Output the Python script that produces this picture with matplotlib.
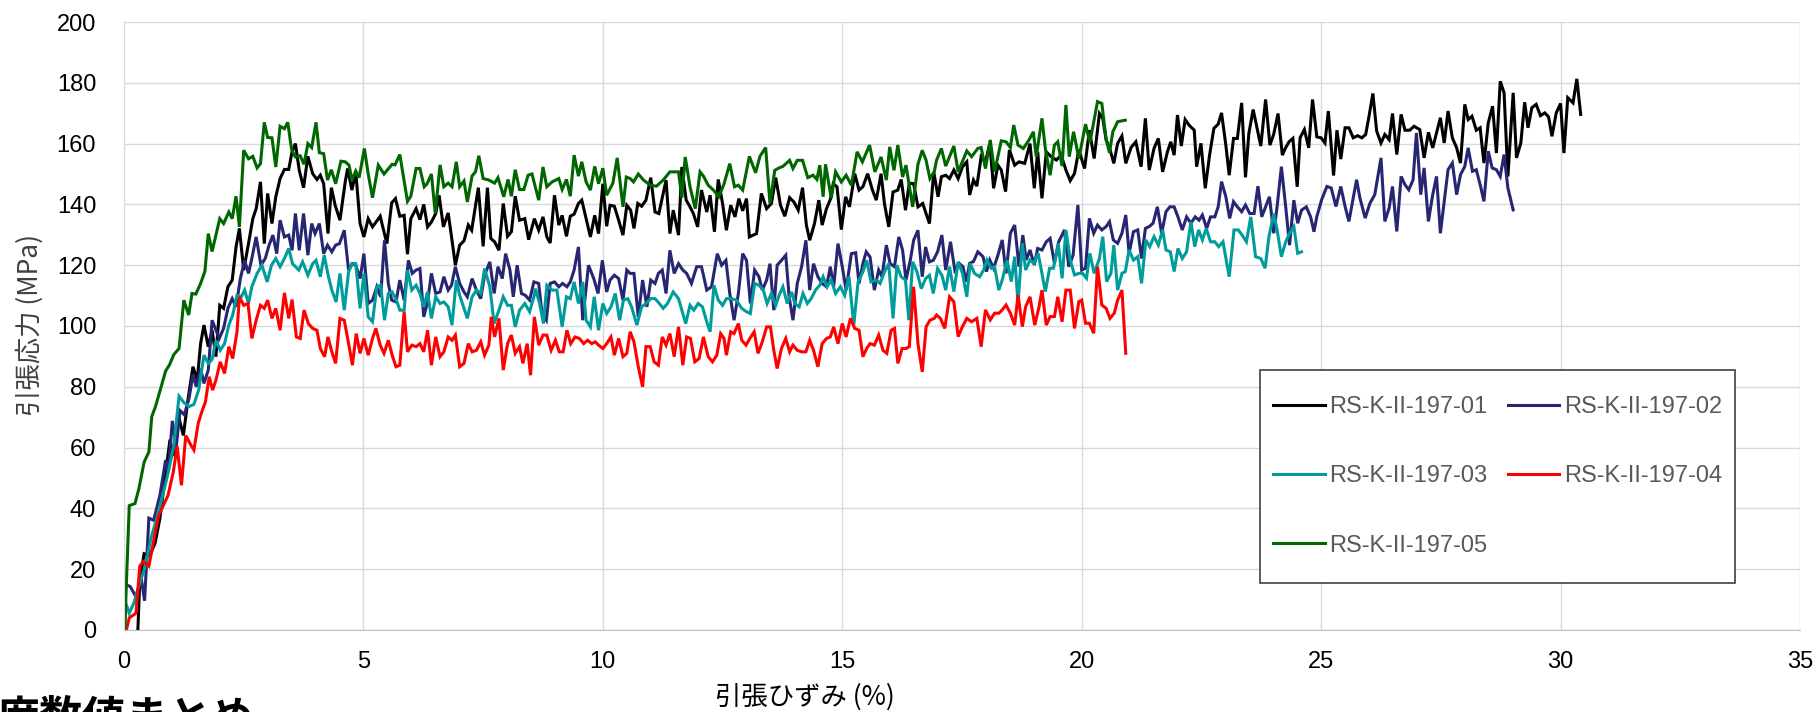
import numpy as np
import matplotlib.pyplot as plt
from matplotlib.patches import Rectangle

plt.rcParams['font.family'] = ['Liberation Sans', 'Noto Sans CJK JP']

labels = ['RS-K-II-197-01', 'RS-K-II-197-02', 'RS-K-II-197-03', 'RS-K-II-197-04', 'RS-K-II-197-05']
colors = ['#000000', '#262673', '#009c9c', '#ff0000', '#006600']

# strain (%), stress (MPa)
rs01 = np.array([
    [0.29, 0], [0.33, 16.3], [0.42, 25.1], [0.54, 24.5], [0.65, 28.6], [0.75, 36.7], [0.86, 50.3], [0.96, 62.6],
    [1.03, 57.2], [1.13, 70.8], [1.24, 64], [1.34, 76.2], [1.44, 86.6], [1.53, 82.2], [1.6, 94.2], [1.67, 100.3],
    [1.76, 93.2], [1.84, 98.6], [1.92, 89.9], [2.0, 106.8], [2.08, 105.8], [2.17, 112.9], [2.26, 115.1], [2.34, 126],
    [2.41, 132.1], [2.5, 118.4], [2.6, 127.1], [2.69, 135.3], [2.76, 138.6], [2.85, 147.4], [2.93, 127.1], [3.0, 143.6],
    [3.09, 133.7], [3.17, 142.5], [3.26, 148.5], [3.35, 151.5], [3.44, 151.5], [3.51, 157.3], [3.58, 160], [3.66, 151.2],
    [3.75, 145.5], [3.84, 155.8], [3.94, 150.1], [4.03, 148.2], [4.1, 149.6], [4.17, 146.8], [4.26, 130.4], [4.33, 145.5],
    [4.41, 139.7], [4.51, 134.8], [4.62, 147.4], [4.67, 151.8], [4.76, 144.7], [4.84, 150.7], [4.93, 133.7], [5.01, 129.3],
    [5.1, 135.3], [5.19, 132.6], [5.35, 136.1], [5.49, 127.1], [5.59, 140.5], [5.67, 141.9], [5.76, 136.1], [5.85, 136.4],
    [5.92, 123.6], [5.99, 135.3], [6.1, 138.6], [6.18, 135], [6.26, 140], [6.34, 132.6], [6.42, 134.2], [6.51, 137],
    [6.58, 143], [6.67, 132.6], [6.77, 137.2], [6.85, 128.2], [6.92, 120], [7.01, 126.6], [7.1, 128], [7.19, 133.2],
    [7.26, 131.5], [7.4, 145.5], [7.5, 126.2], [7.59, 145.5], [7.66, 128.8], [7.74, 127.7], [7.83, 124.9], [7.92, 140.3],
    [8.01, 129.5], [8.09, 131], [8.17, 142.7], [8.26, 134.8], [8.37, 135.3], [8.45, 128.4], [8.57, 135.3], [8.66, 131.5],
    [8.75, 135.9], [8.83, 129.3], [8.9, 127.3], [8.99, 143], [9.08, 133.2], [9.15, 136.4], [9.24, 129.5], [9.32, 136.1],
    [9.4, 136.8], [9.49, 140.3], [9.56, 141.4], [9.65, 135.3], [9.74, 129.3], [9.83, 136.4], [9.91, 130.4], [10.0, 146.8],
    [10.08, 132.8], [10.15, 139.7], [10.24, 139.4], [10.33, 134.8], [10.42, 129.9], [10.5, 139.7], [10.58, 138.1],
    [10.65, 132.1], [10.73, 140.3], [10.81, 139.4], [10.9, 141.4], [11.0, 148.8], [11.09, 137.5], [11.17, 137],
    [11.32, 148], [11.4, 130.4], [11.47, 138.1], [11.58, 129.9], [11.65, 152.3], [11.74, 141.4], [11.82, 139.2],
    [11.89, 137], [11.98, 132.6], [12.06, 144.7], [12.17, 137.5], [12.24, 143], [12.33, 131], [12.41, 148.2],
    [12.5, 140.3], [12.58, 131.5], [12.67, 139.7], [12.76, 135.9], [12.84, 141.9], [12.92, 137.9], [13.0, 141.9],
    [13.06, 129.3], [13.21, 130.4], [13.31, 143.6], [13.42, 138.6], [13.52, 140.3], [13.61, 148.8], [13.71, 139.7],
    [13.8, 136.1], [13.9, 142.2], [13.99, 140.8], [14.08, 138.1], [14.17, 145.5], [14.25, 133.2], [14.32, 128.2],
    [14.42, 133.7], [14.51, 141.4], [14.58, 133.2], [14.67, 138.6], [14.75, 141.6], [14.81, 146.8], [14.89, 145.8],
    [14.98, 131.7], [15.07, 142.5], [15.15, 139.2], [15.26, 150.1], [15.35, 144.7], [15.43, 145.8], [15.53, 150.1],
    [15.63, 144.7], [15.71, 141.4], [15.81, 150.1], [15.88, 140.3], [15.97, 132.6], [16.06, 144.1], [16.16, 144.7],
    [16.23, 148.2], [16.32, 138.1], [16.4, 147], [16.49, 146.8], [16.58, 139.2], [16.68, 140.3], [16.82, 133.7],
    [16.91, 150.7], [17.0, 142.5], [17.07, 149.1], [17.16, 149.6], [17.24, 148.5], [17.33, 151.3], [17.42, 148.5],
    [17.51, 152.4], [17.6, 154], [17.66, 143.1], [17.74, 148], [17.81, 146], [17.9, 155.7], [17.99, 154], [18.08, 160],
    [18.16, 145.3], [18.25, 152.9], [18.32, 151.3], [18.41, 144.2], [18.49, 157.9], [18.6, 152.9], [18.69, 154],
    [18.81, 153.5], [18.92, 160], [19.01, 145.3], [19.08, 157.3], [19.17, 142], [19.26, 157.3], [19.36, 155.7],
    [19.47, 154.6], [19.57, 156.2], [19.67, 151.3], [19.76, 147.8], [19.85, 150.2], [19.94, 157.9], [20.06, 151.8],
    [20.16, 164.4], [20.26, 155.1], [20.37, 169.9], [20.44, 168.3], [20.51, 161.2], [20.58, 158.7], [20.67, 153.5],
    [20.75, 160.1], [20.84, 162.5], [20.92, 153.5], [21.03, 158.7], [21.13, 160.6], [21.24, 152.4], [21.33, 168.3],
    [21.41, 151.3], [21.51, 158.4], [21.6, 161.7], [21.69, 150.7], [21.79, 157.3], [21.86, 160.6], [21.93, 156.2],
    [22.0, 169.4], [22.08, 159.2], [22.16, 167.9], [22.24, 166.1], [22.35, 164.4], [22.4, 152.4], [22.49, 160.1],
    [22.58, 145.3], [22.67, 156.2], [22.76, 165], [22.85, 166.4], [22.92, 170.1], [23.01, 159.5], [23.08, 149.6],
    [23.17, 161.7], [23.25, 161.7], [23.34, 173.4], [23.42, 148.9], [23.49, 163.3], [23.58, 171.2], [23.67, 164.4],
    [23.74, 159.2], [23.84, 174.5], [23.93, 159.5], [24.01, 163.1], [24.1, 169.9], [24.19, 156.2], [24.26, 158.7],
    [24.33, 160.6], [24.41, 161.7], [24.5, 145.8], [24.56, 161.9], [24.65, 164.6], [24.74, 158.6], [24.82, 174.5],
    [24.91, 162.2], [25.0, 161.9], [25.08, 160.2], [25.15, 170.7], [25.26, 149.5], [25.33, 164.4], [25.41, 154.9],
    [25.5, 165.2], [25.58, 165.2], [25.67, 161.9], [25.76, 162.6], [25.85, 161.9], [25.93, 163], [26.0, 169],
    [26.08, 176.5], [26.16, 164.1], [26.25, 160.2], [26.33, 163], [26.42, 161.3], [26.49, 169.9], [26.58, 156.4],
    [26.67, 169.6], [26.75, 164.4], [26.85, 164.4], [26.94, 165.7], [27.06, 164.6], [27.15, 155.3], [27.24, 163.7],
    [27.33, 158.6], [27.41, 163.5], [27.49, 168.5], [27.57, 160.2], [27.65, 170.7], [27.74, 161.9], [27.83, 158.6],
    [27.91, 153.6], [28.0, 172.9], [28.07, 167.9], [28.15, 169], [28.24, 164.4], [28.32, 165.2], [28.4, 153.6],
    [28.49, 166.8], [28.58, 172.3], [28.66, 156.9], [28.74, 180.5], [28.82, 176.7], [28.9, 149.2], [29.01, 176.7],
    [29.08, 155.3], [29.17, 160.2], [29.25, 173.6], [29.32, 165.2], [29.4, 171.8], [29.49, 172.9], [29.58, 169.2],
    [29.67, 170.1], [29.75, 168.8], [29.82, 162.4], [29.91, 170.1], [30.0, 173.2], [30.07, 156.9], [30.15, 175.1],
    [30.26, 173.4], [30.34, 181.3], [30.42, 169.6]])

rs02 = np.array([
    [0, 0], [0.02, 15], [0.13, 14.3], [0.25, 10.9], [0.36, 17], [0.43, 9.6], [0.52, 36.8], [0.62, 36.1], [0.75, 44.3],
    [0.87, 55.9], [0.92, 51.8], [1.01, 68.8], [1.09, 60], [1.17, 72.2], [1.26, 70.8], [1.36, 76.3], [1.44, 84],
    [1.51, 80], [1.6, 86], [1.67, 81.1], [1.76, 85.5], [1.84, 101.9], [1.92, 98.6], [1.99, 95.9], [2.08, 99.2],
    [2.17, 105.8], [2.26, 109], [2.34, 106.3], [2.43, 115.6], [2.52, 121.6], [2.6, 117.3], [2.67, 122.2], [2.76, 129.3],
    [2.86, 120], [2.95, 122.2], [3.03, 126.6], [3.11, 129.9], [3.19, 123.8], [3.26, 134.8], [3.35, 129.3], [3.44, 129.9],
    [3.51, 124.9], [3.58, 137], [3.66, 124.9], [3.75, 137], [3.84, 123.3], [3.92, 133.7], [3.99, 130.4], [4.08, 133.7],
    [4.17, 123.8], [4.25, 126.6], [4.34, 124.4], [4.42, 126.6], [4.5, 127.1], [4.6, 131.5], [4.69, 118.4], [4.77, 120.5],
    [4.84, 120], [4.93, 115.6], [5.01, 123.8], [5.1, 107.4], [5.19, 108.5], [5.28, 112.9], [5.36, 109.6], [5.44, 128.2],
    [5.52, 114], [5.59, 108.5], [5.68, 107.9], [5.76, 115.1], [5.85, 108.5], [5.94, 121.6], [6.02, 117.3], [6.1, 118.4],
    [6.18, 118.9], [6.26, 103], [6.34, 107.9], [6.42, 117.3], [6.51, 110.7], [6.6, 111.2], [6.68, 116.2], [6.77, 111.8],
    [6.84, 113.4], [6.92, 119.5], [7.01, 114], [7.1, 111.2], [7.17, 109.6], [7.27, 115.6], [7.36, 111.8], [7.45, 109],
    [7.53, 116.7], [7.64, 121.1], [7.73, 110.7], [7.81, 119.5], [7.9, 115.6], [7.97, 123.8], [8.06, 118.4], [8.13, 109.6],
    [8.21, 120], [8.3, 110.7], [8.38, 110.1], [8.47, 108.5], [8.56, 114.5], [8.66, 114], [8.73, 104.1], [8.82, 101.9],
    [8.9, 114], [8.99, 114.5], [9.08, 112.9], [9.16, 114], [9.25, 112.9], [9.32, 114.5], [9.4, 118.4], [9.49, 126],
    [9.58, 101.9], [9.7, 120], [9.81, 115.6], [9.9, 110.7], [9.99, 121.6], [10.08, 111.2], [10.15, 115.1], [10.24, 116.7],
    [10.33, 115.6], [10.42, 108.5], [10.5, 118.4], [10.57, 117.3], [10.65, 117.3], [10.74, 103], [10.83, 115.1],
    [10.92, 106.3], [11.0, 115.1], [11.09, 114], [11.16, 117.3], [11.24, 118.4], [11.32, 110.7], [11.4, 124.9],
    [11.49, 117.3], [11.58, 120.5], [11.67, 118.4], [11.75, 117.3], [11.85, 114], [11.96, 119.5], [12.06, 119.5],
    [12.17, 111.8], [12.27, 112.9], [12.39, 123.8], [12.48, 120], [12.57, 121.6], [12.65, 110.7], [12.74, 101.9],
    [12.83, 110.7], [12.92, 123.8], [13.0, 121.6], [13.08, 107.4], [13.17, 118.4], [13.26, 116.2], [13.33, 111.8],
    [13.42, 115.1], [13.49, 120.5], [13.57, 105.2], [13.64, 120], [13.73, 121.6], [13.82, 123.3], [13.89, 109.6],
    [13.97, 101.9], [14.06, 114], [14.15, 119.5], [14.24, 128.2], [14.32, 111.8], [14.4, 120.5], [14.49, 116.2],
    [14.58, 114], [14.67, 112.9], [14.75, 119.5], [14.82, 112.9], [14.91, 127.1], [15.0, 119.5], [15.08, 111.8],
    [15.19, 123.8], [15.28, 124.1], [15.35, 114], [15.43, 120.5], [15.5, 124.4], [15.58, 122.7], [15.67, 111.8],
    [15.76, 118.4], [15.83, 116.2], [15.92, 126.6], [16.0, 120.5], [16.09, 119.5], [16.18, 129.3], [16.26, 124.9],
    [16.33, 115.1], [16.42, 121.6], [16.49, 128.2], [16.58, 131.5], [16.67, 116.2], [16.74, 126], [16.82, 121.1],
    [16.9, 121.6], [16.99, 124.4], [17.08, 129.9], [17.16, 118.4], [17.26, 127.7], [17.35, 118.4], [17.44, 120.6],
    [17.52, 119.5], [17.59, 114.6], [17.66, 120.6], [17.74, 121.2], [17.83, 124.4], [17.94, 122.8], [18.01, 117.9],
    [18.08, 121.7], [18.16, 119], [18.25, 123.3], [18.34, 128.3], [18.42, 117.3], [18.51, 130.5], [18.6, 133.2],
    [18.69, 119.5], [18.77, 129.9], [18.84, 121.7], [18.92, 125], [19.01, 120.1], [19.08, 125.5], [19.17, 125],
    [19.26, 127.7], [19.34, 128.8], [19.43, 120.6], [19.52, 127.7], [19.64, 131.6], [19.73, 119.5], [19.82, 123.3],
    [19.92, 139.8], [20.0, 118.4], [20.08, 119], [20.16, 135.4], [20.25, 130.5], [20.33, 133.2], [20.42, 131.6],
    [20.51, 132.7], [20.58, 134.3], [20.66, 128.3], [20.75, 127.2], [20.84, 130.5], [20.92, 136.5], [20.99, 123.9],
    [21.08, 131], [21.17, 131.6], [21.25, 122.2], [21.33, 132.1], [21.41, 132.7], [21.49, 133.8], [21.58, 139.2],
    [21.67, 130.5], [21.76, 137.6], [21.84, 139.2], [21.93, 139.2], [22.01, 135.9], [22.1, 131.6], [22.19, 135.9],
    [22.28, 133.8], [22.37, 135.9], [22.45, 134.8], [22.52, 136.5], [22.61, 132.1], [22.69, 135.9], [22.78, 135.9],
    [22.85, 139.2], [22.92, 147.5], [23.01, 142.5], [23.09, 135.4], [23.17, 140.9], [23.25, 139.2], [23.34, 137.6],
    [23.42, 139.8], [23.51, 137], [23.6, 137], [23.68, 146], [23.76, 135.9], [23.84, 139.2], [23.92, 142.5],
    [24.01, 130.5], [24.08, 139.2], [24.17, 152.4], [24.26, 139.2], [24.34, 126.6], [24.43, 141.4], [24.51, 133.8],
    [24.59, 138.1], [24.69, 139.2], [24.78, 135.9], [24.85, 131], [24.91, 136], [25.01, 141.5], [25.12, 145.9],
    [25.21, 145.4], [25.31, 139.3], [25.41, 145.9], [25.5, 139.3], [25.58, 134.4], [25.74, 148.1], [25.81, 142.1],
    [25.92, 135.5], [26.02, 140.4], [26.12, 143.2], [26.25, 155.3], [26.33, 134.4], [26.42, 138.8], [26.49, 145.9],
    [26.58, 131.1], [26.67, 149.2], [26.75, 146.5], [26.83, 144.8], [26.92, 148.1], [26.99, 163.5], [27.08, 143.2],
    [27.15, 152], [27.24, 134.4], [27.33, 143.2], [27.41, 149.2], [27.49, 130.5], [27.57, 141], [27.65, 151.4],
    [27.74, 153.6], [27.83, 143.2], [27.91, 149.8], [28.0, 152.5], [28.07, 158.6], [28.16, 150.9], [28.24, 151.4],
    [28.33, 145.9], [28.4, 141], [28.49, 157.5], [28.57, 152], [28.66, 151.4], [28.74, 149.2], [28.82, 156.4],
    [28.9, 145.4], [29.01, 138.2]])

rs03 = np.array([
    [0, 3], [0.02, 9.6], [0.11, 5.5], [0.21, 9], [0.32, 15], [0.46, 21.8], [0.56, 30], [0.67, 36], [0.77, 42],
    [0.86, 47.6], [0.94, 53], [1.04, 60.6], [1.15, 76.9], [1.25, 74.8], [1.36, 73.5], [1.46, 74.2], [1.56, 79],
    [1.67, 90.4], [1.76, 87.7], [1.84, 89], [1.92, 95.3], [2.01, 92], [2.1, 94.2], [2.19, 100.3], [2.27, 103.6],
    [2.36, 110.1], [2.45, 109.6], [2.52, 111.8], [2.6, 107.4], [2.67, 112.9], [2.78, 117.3], [2.88, 120], [2.99, 114.5],
    [3.08, 120], [3.17, 122.2], [3.26, 119.5], [3.35, 122.2], [3.44, 125.5], [3.52, 120.5], [3.65, 118.4], [3.73, 121.1],
    [3.84, 116.7], [3.94, 120.5], [4.01, 121.6], [4.1, 116.2], [4.18, 123.3], [4.27, 116.2], [4.34, 111.8], [4.43, 107.9],
    [4.51, 117.3], [4.6, 105.2], [4.69, 117.8], [4.76, 120.5], [4.84, 120.5], [4.93, 105.8], [5.01, 117.3], [5.1, 103],
    [5.19, 101.4], [5.28, 112.9], [5.36, 113.4], [5.44, 101.9], [5.52, 110.7], [5.6, 111.2], [5.69, 108.5], [5.76, 105.2],
    [5.85, 105.2], [5.92, 118.4], [6.01, 111.8], [6.1, 113.4], [6.18, 110.7], [6.26, 106.3], [6.34, 111.2], [6.42, 102.5],
    [6.51, 109.6], [6.6, 107.4], [6.68, 107.9], [6.77, 106.3], [6.85, 100.3], [6.94, 115.1], [7.01, 110.1], [7.1, 105.8],
    [7.17, 102.5], [7.27, 109.6], [7.36, 111.8], [7.45, 110.7], [7.53, 118.9], [7.64, 112.9], [7.73, 100.8], [7.83, 105.2],
    [7.92, 109.6], [8.01, 106.8], [8.09, 106.8], [8.17, 99.7], [8.26, 105.2], [8.37, 107.4], [8.47, 104.7], [8.56, 109.6],
    [8.59, 112.3], [8.68, 107.4], [8.76, 100.8], [8.83, 113.4], [8.94, 111.8], [9.04, 111.8], [9.15, 99.7], [9.24, 109.6],
    [9.32, 109], [9.4, 114.5], [9.49, 107.4], [9.58, 114.5], [9.65, 101.9], [9.74, 99.7], [9.82, 109.6], [9.91, 98.6],
    [10.0, 107.4], [10.08, 104.1], [10.17, 106.3], [10.26, 110.7], [10.35, 101.9], [10.43, 108.5], [10.52, 109],
    [10.6, 106.3], [10.71, 100.3], [10.81, 106.3], [10.9, 107.4], [11.0, 109], [11.09, 109], [11.18, 107.4],
    [11.26, 105.8], [11.35, 107.4], [11.47, 111.2], [11.58, 109], [11.65, 105.2], [11.73, 100.8], [11.82, 106.8],
    [11.9, 105.2], [11.99, 107.4], [12.08, 106.3], [12.18, 100.8], [12.24, 98.1], [12.32, 113.4], [12.41, 108.5],
    [12.5, 106.8], [12.58, 109], [12.69, 109], [12.79, 108.5], [12.9, 105.8], [13.0, 104.7], [13.08, 104.1], [13.17, 114],
    [13.26, 113.4], [13.35, 111.8], [13.43, 107.4], [13.52, 110.7], [13.61, 106.8], [13.68, 110.1], [13.76, 112.9],
    [13.85, 107.4], [13.94, 111.2], [14.01, 107.4], [14.1, 106.3], [14.18, 110.7], [14.27, 107.4], [14.35, 109],
    [14.44, 111.8], [14.53, 113.4], [14.6, 116.2], [14.68, 112.9], [14.77, 115.1], [14.86, 110.7], [14.96, 112.9],
    [15.05, 110.1], [15.14, 116.2], [15.24, 100.3], [15.33, 114.5], [15.43, 117.8], [15.51, 121.6], [15.6, 114.5],
    [15.71, 115.1], [15.79, 114], [15.88, 117.8], [15.97, 120.5], [16.06, 102.5], [16.14, 120], [16.23, 116.2],
    [16.32, 115.1], [16.39, 101.9], [16.47, 121.1], [16.56, 117.8], [16.65, 112.3], [16.74, 115.6], [16.82, 116.7],
    [16.9, 110.7], [16.99, 118.9], [17.08, 116.7], [17.16, 111.8], [17.24, 119.5], [17.33, 111.3], [17.42, 121.1],
    [17.51, 117.3], [17.6, 109.6], [17.67, 120.6], [17.76, 117.3], [17.87, 116.2], [17.95, 118.4], [18.02, 121.7],
    [18.11, 119], [18.18, 119.5], [18.27, 111.8], [18.35, 115.7], [18.44, 121.7], [18.53, 114.6], [18.6, 122.8],
    [18.67, 107.5], [18.76, 127.2], [18.83, 118.4], [18.92, 121.7], [19.0, 120.6], [19.09, 123.9], [19.17, 117.3],
    [19.24, 111.3], [19.33, 119], [19.41, 119], [19.51, 127.2], [19.59, 115.7], [19.67, 131.6], [19.76, 121.7],
    [19.85, 116.8], [19.94, 117.3], [20.02, 117.3], [20.1, 115.7], [20.17, 123.9], [20.26, 117.3], [20.37, 122.2],
    [20.44, 129.4], [20.52, 114.6], [20.61, 117.3], [20.67, 126.6], [20.75, 111.8], [20.84, 117.3], [20.91, 117.9],
    [20.99, 125], [21.08, 121.7], [21.17, 122.8], [21.25, 114], [21.34, 128.3], [21.42, 126.1], [21.51, 129.4],
    [21.6, 126.6], [21.69, 131.6], [21.76, 125], [21.85, 124.4], [21.93, 117.9], [22.01, 125.5], [22.1, 122.2],
    [22.19, 124.4], [22.28, 134.3], [22.36, 126.1], [22.44, 131.6], [22.52, 128.3], [22.6, 132.1], [22.69, 127.7],
    [22.78, 127.7], [22.86, 126.1], [22.95, 127.7], [23.08, 116.2], [23.18, 131.6], [23.27, 131.6], [23.35, 129.9],
    [23.44, 127.7], [23.53, 135.9], [23.63, 122.8], [23.74, 122.2], [23.83, 119], [23.91, 129.4], [24.01, 137],
    [24.08, 131.6], [24.17, 122.8], [24.26, 127.7], [24.34, 130.5], [24.43, 132.7], [24.51, 123.9], [24.59, 124.4]])

rs04 = np.array([
    [0.05, 0], [0.11, 4], [0.25, 5.5], [0.33, 21], [0.4, 22.5], [0.52, 21], [0.61, 28.6], [0.72, 37.5], [0.82, 40.9],
    [0.92, 44.3], [1.03, 52], [1.11, 60.5], [1.2, 47.6], [1.29, 64], [1.38, 61.3], [1.46, 59.2], [1.55, 68], [1.63, 72],
    [1.7, 75], [1.78, 83.3], [1.85, 78.9], [1.92, 82.2], [2.01, 88.2], [2.1, 84.4], [2.19, 93.2], [2.27, 89.3],
    [2.36, 98.1], [2.41, 109.6], [2.5, 106.8], [2.59, 107.4], [2.67, 95.9], [2.76, 101.9], [2.85, 106.8], [2.93, 105.8],
    [3.0, 108.5], [3.09, 102.5], [3.17, 105.8], [3.26, 98.6], [3.35, 110.9], [3.44, 102.5], [3.51, 108.7], [3.6, 96.4],
    [3.68, 95.9], [3.76, 105.2], [3.85, 100.8], [3.94, 99.2], [4.03, 98.6], [4.1, 92.6], [4.19, 89.9], [4.26, 96.4],
    [4.34, 91.5], [4.42, 87.7], [4.51, 102.5], [4.6, 101.9], [4.69, 94.2], [4.77, 87.1], [4.85, 97.5], [4.93, 91],
    [5.01, 95.9], [5.1, 90.4], [5.19, 95.9], [5.26, 99.2], [5.35, 93.7], [5.43, 91], [5.52, 95.3], [5.6, 90.4],
    [5.68, 86.6], [5.76, 87.1], [5.85, 104.7], [5.92, 91.5], [6.01, 93.7], [6.1, 93.2], [6.18, 94.2], [6.26, 91.5],
    [6.34, 98.6], [6.42, 87.1], [6.51, 96.4], [6.6, 89.9], [6.68, 91.5], [6.77, 96.4], [6.85, 95.3], [6.92, 97],
    [7.01, 86.6], [7.1, 87.7], [7.19, 94.2], [7.27, 91.5], [7.36, 92], [7.45, 94.8], [7.53, 90.4], [7.62, 93.7],
    [7.67, 103], [7.74, 96.4], [7.83, 102.5], [7.92, 85.5], [8.01, 94.2], [8.09, 97], [8.17, 91], [8.26, 93.2],
    [8.33, 87.7], [8.42, 94.2], [8.49, 83.8], [8.57, 103], [8.66, 93.7], [8.75, 97], [8.83, 97], [8.92, 92], [9.01, 95.3],
    [9.09, 91.5], [9.17, 91.5], [9.25, 98.6], [9.33, 94.2], [9.42, 96.4], [9.51, 95.9], [9.6, 94.2], [9.68, 95.3],
    [9.77, 94.2], [9.84, 94.8], [9.91, 93.7], [10.0, 92.6], [10.08, 94.2], [10.17, 96.4], [10.24, 90.4], [10.33, 95.9],
    [10.42, 89.9], [10.5, 91], [10.57, 98.1], [10.65, 94.8], [10.74, 86.6], [10.83, 80], [10.9, 93.2], [10.99, 93.2],
    [11.07, 88.2], [11.16, 87.1], [11.24, 96.4], [11.32, 93.7], [11.4, 97.5], [11.49, 89.9], [11.58, 99.7], [11.67, 87.1],
    [11.75, 96.4], [11.83, 95.9], [11.92, 88.2], [12.01, 89.3], [12.1, 96.4], [12.2, 89.9], [12.29, 88.2], [12.38, 90.4],
    [12.46, 97.5], [12.53, 95.9], [12.58, 90.4], [12.67, 98.1], [12.74, 97.5], [12.83, 100.8], [12.9, 95.3], [12.99, 93.7],
    [13.07, 95.9], [13.16, 98.1], [13.24, 91], [13.33, 94.8], [13.42, 99.7], [13.5, 99.7], [13.57, 92], [13.64, 86],
    [13.73, 92.6], [13.82, 95.9], [13.9, 91.5], [13.97, 93.7], [14.06, 92], [14.15, 91.5], [14.24, 91.5], [14.32, 95.3],
    [14.4, 92], [14.49, 86.6], [14.58, 94.2], [14.67, 95.9], [14.75, 96.4], [14.82, 99.7], [14.91, 94.2], [15.0, 100.8],
    [15.08, 96.4], [15.17, 102.5], [15.26, 99.2], [15.35, 98.6], [15.43, 89.9], [15.51, 92.6], [15.58, 94.2],
    [15.67, 93.7], [15.76, 97], [15.85, 92], [15.93, 91], [16.02, 98.6], [16.09, 99.2], [16.16, 87.7], [16.25, 92.6],
    [16.33, 92.6], [16.4, 93.2], [16.49, 112.9], [16.58, 94.2], [16.67, 84.9], [16.75, 99.7], [16.83, 101.9],
    [16.92, 102.5], [16.97, 103.6], [17.05, 102.5], [17.14, 99.2], [17.24, 109.6], [17.33, 108], [17.42, 96.5],
    [17.51, 99.8], [17.6, 102.5], [17.7, 101.4], [17.81, 102.5], [17.9, 93.2], [17.99, 105.3], [18.09, 102],
    [18.18, 104.2], [18.27, 104.2], [18.34, 105.3], [18.42, 106.9], [18.51, 104.2], [18.6, 100.3], [18.67, 110.2],
    [18.76, 99.8], [18.83, 106.4], [18.92, 109.6], [19.02, 100.3], [19.11, 106.4], [19.17, 111.8], [19.26, 100.3],
    [19.34, 103.1], [19.43, 103.1], [19.5, 109.6], [19.59, 101.4], [19.67, 111.8], [19.76, 111.8], [19.85, 99.2],
    [19.94, 108], [20.0, 108.5], [20.08, 100.9], [20.16, 100.9], [20.25, 97.6], [20.33, 119.5], [20.42, 106.9],
    [20.51, 105.8], [20.59, 102.5], [20.68, 104.2], [20.75, 108.5], [20.84, 111.8], [20.92, 91]])

rs05 = np.array([
    [0.02, 0], [0.04, 10.9], [0.11, 40.9], [0.23, 41.6], [0.31, 46.4], [0.42, 55.2], [0.52, 58.6], [0.58, 70.2],
    [0.66, 73.6], [0.77, 79.7], [0.87, 85.2], [0.95, 87.2], [1.04, 90.6], [1.15, 92.6], [1.25, 108.5], [1.35, 103.6],
    [1.42, 110.7], [1.5, 110.5], [1.6, 114], [1.69, 118], [1.76, 130.4], [1.84, 124.5], [2.0, 135.3], [2.08, 133.7],
    [2.19, 137.5], [2.26, 135.3], [2.34, 142.7], [2.41, 132.6], [2.5, 157.8], [2.6, 155], [2.69, 155.8], [2.78, 152],
    [2.85, 153.4], [2.93, 167], [3.0, 162], [3.09, 161.9], [3.17, 152.3], [3.26, 165.7], [3.35, 164.9], [3.42, 167],
    [3.5, 158], [3.58, 155.6], [3.68, 156], [3.76, 153.2], [3.84, 160], [3.92, 158.7], [4.01, 167], [4.08, 157],
    [4.17, 156.7], [4.25, 148], [4.33, 151.4], [4.42, 146.8], [4.53, 154.2], [4.62, 154], [4.7, 152.9], [4.76, 148],
    [4.84, 151], [4.91, 148.8], [5.02, 158.4], [5.1, 150], [5.19, 142.2], [5.31, 152.9], [5.43, 150], [5.6, 153.2],
    [5.66, 153], [5.76, 156.4], [5.92, 141], [5.99, 142.7], [6.1, 151.8], [6.18, 151.8], [6.27, 145.8], [6.33, 146.8],
    [6.42, 150], [6.5, 137], [6.6, 153], [6.68, 145.8], [6.77, 147], [6.85, 145.8], [6.94, 154], [7.01, 145.8],
    [7.1, 147.7], [7.17, 140.8], [7.27, 149.4], [7.34, 150.7], [7.41, 156], [7.5, 148.5], [7.62, 148], [7.74, 147],
    [7.81, 148.8], [7.93, 142.5], [8.02, 148.2], [8.09, 142.7], [8.17, 151.4], [8.26, 144.9], [8.35, 144.9],
    [8.44, 149.6], [8.52, 150], [8.66, 141.4], [8.75, 152.3], [8.83, 145.8], [8.94, 147.4], [9.08, 148.5], [9.15, 144.9],
    [9.24, 148.2], [9.32, 142.7], [9.4, 156.2], [9.49, 149.3], [9.56, 154], [9.65, 147.4], [9.74, 144.7], [9.83, 152.5],
    [9.91, 146.8], [10.0, 151.9], [10.08, 143], [10.21, 147], [10.3, 155.3], [10.42, 139.2], [10.49, 149], [10.57, 148.5],
    [10.64, 147.4], [10.74, 150], [10.85, 148], [10.99, 146.3], [11.12, 146], [11.26, 148], [11.4, 150.7], [11.58, 150.7],
    [11.65, 142.2], [11.72, 155.6], [11.82, 145.8], [11.93, 138.6], [12.03, 150.7], [12.1, 149.3], [12.2, 146.3],
    [12.31, 144.7], [12.42, 142.5], [12.53, 146.7], [12.65, 153.4], [12.75, 145.8], [12.83, 146.3], [12.92, 144.7],
    [13.06, 155.8], [13.19, 150.4], [13.28, 155.8], [13.4, 158.7], [13.49, 140.3], [13.59, 151.2], [13.68, 152],
    [13.76, 152.5], [13.9, 154.5], [13.97, 151.8], [14.06, 154.5], [14.17, 154.5], [14.28, 148.8], [14.39, 149.6],
    [14.47, 148.2], [14.53, 152.9], [14.6, 142.5], [14.65, 153.2], [14.77, 142], [14.86, 150.7], [14.98, 147.4],
    [15.08, 149.6], [15.19, 146.3], [15.31, 157.3], [15.42, 154], [15.57, 159.5], [15.68, 150.7], [15.81, 155.6],
    [15.92, 148], [15.99, 158.9], [16.08, 151.2], [16.16, 159.5], [16.26, 149], [16.33, 152.9], [16.47, 139.2],
    [16.58, 153.2], [16.67, 157.8], [16.75, 154.5], [16.83, 148.5], [16.92, 150.7], [16.97, 154.6], [17.07, 158.4],
    [17.16, 152.6], [17.33, 159.2], [17.42, 150.7], [17.6, 157.6], [17.7, 155.7], [17.83, 158.4], [17.9, 158.7],
    [17.99, 151.8], [18.09, 161.2], [18.18, 150.7], [18.32, 160.9], [18.42, 160.6], [18.51, 158.7], [18.58, 166.1],
    [18.67, 159.5], [18.78, 158.4], [18.9, 161.2], [18.99, 163.9], [19.05, 155.7], [19.17, 168.3], [19.24, 158.4],
    [19.34, 149.6], [19.43, 159.5], [19.5, 160.6], [19.59, 152.6], [19.67, 172.7], [19.74, 155.7], [19.83, 163.9],
    [19.94, 155.1], [20.08, 166.4], [20.17, 160.3], [20.33, 173.8], [20.42, 173.2], [20.51, 161.4], [20.58, 157],
    [20.65, 163.9], [20.75, 167.2], [20.91, 167.7]])

series = [rs01, rs02, rs03, rs04, rs05]

xticks = np.arange(0, 36, 5)
yticks = np.arange(0, 201, 20)

fig = plt.figure(figsize=(18.18, 7.12), dpi=100)
ax = fig.add_axes([0.0682, 0.1152, 0.9219, 0.8539])

handles = []
for data, lab, c in zip(series, labels, colors):
    h, = ax.plot(data[:, 0], data[:, 1], color=c, lw=2.2, label=lab, solid_joinstyle='miter')
    handles.append(h)

ax.set_xlim(0, 35)
ax.set_ylim(0, 200)
ax.set_xticks(xticks)
ax.set_yticks(yticks)
ax.grid(True, color='#d9d9d9', lw=1.0)
ax.set_axisbelow(True)
for s in ['top', 'right']:
    ax.spines[s].set_visible(False)
ax.spines['left'].set_color('#d9d9d9')
ax.spines['bottom'].set_color('#bfbfbf')
ax.tick_params(length=0, labelsize=17, colors='black')
ax.tick_params(axis='y', pad=20)
ax.tick_params(axis='x', pad=15)

# legend box drawn by hand, entries placed row-wise
ax.add_patch(Rectangle((0.678, 0.0773), 0.283, 0.3507, transform=ax.transAxes,
                       fill=True, facecolor='white', edgecolor='#404040', lw=1.2, zorder=5))
order = [0, 2, 4, 1, 3]
leg = ax.legend([handles[i] for i in order], [labels[i] for i in order], ncol=2,
                loc='center', bbox_to_anchor=(0.8195, 0.2527), frameon=False, fontsize=17,
                handlelength=2.2, handletextpad=0.2, columnspacing=0.85, labelspacing=2.0)
leg.set_zorder(6)
for t in leg.get_texts():
    t.set_color('#595959')

fig.text(805 / 1818, 1 - 697 / 712, '引張ひずみ (%)', ha='center', va='center', fontsize=19,
         family=['Noto Sans CJK JP', 'DejaVu Sans'])
fig.text(30 / 1818, 1 - 325 / 712, '引張応力 (MPa)', ha='center', va='center', rotation=90, fontsize=19,
         color='#404040', family=['Noto Sans CJK JP', 'DejaVu Sans'])
fig.text(-4 / 1818, 1 - 697 / 712, '度数値まとめ', ha='left', va='top', fontsize=31, fontweight='bold',
         family=['Noto Sans CJK JP', 'DejaVu Sans'])

fig.savefig('out.png', dpi=100)
